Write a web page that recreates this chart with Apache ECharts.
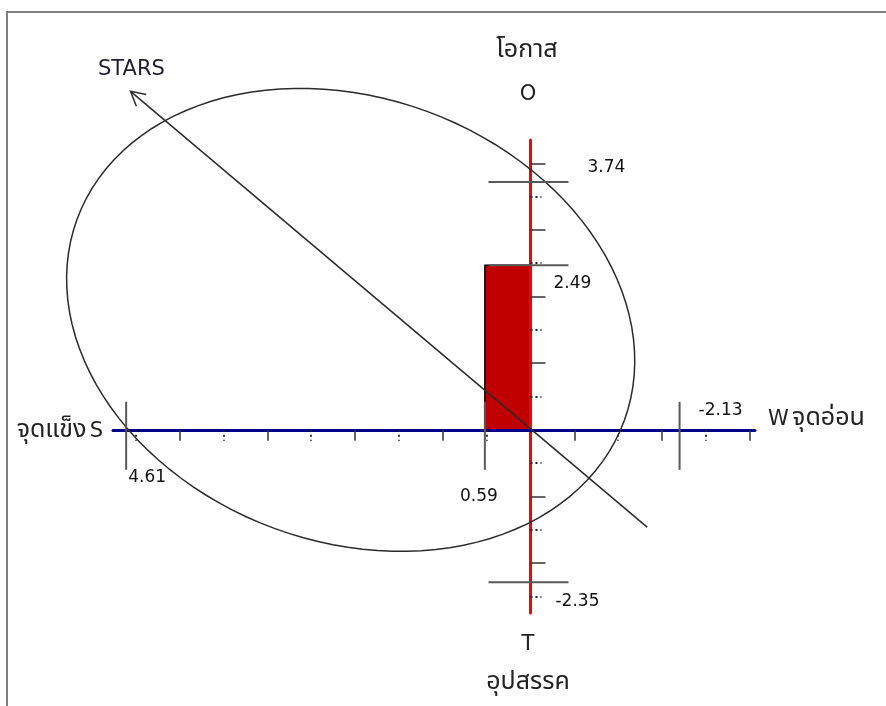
<!DOCTYPE html>
<html>
<head>
<meta charset="utf-8">
<title>STARS</title>
<script src="https://cdn.jsdelivr.net/npm/echarts@6/dist/echarts.min.js"></script>
<style>
html, body { margin: 0; padding: 0; background: #fff; }
#chart { width: 886px; height: 706px; }
</style>
</head>
<body>
<div id="chart"></div>
<script>
// ค่าที่อ่านได้จากภาพ (แกนนอน: S บวกไปทางซ้าย, W ลบไปทางขวา)
const xMarkerLabels = ['4.61', '0.59', '-2.13']
const xMarkerAt = [4.61, 0.52, -1.70]
const yMarkerLabels = ['3.74', '2.49', '-2.35']
const yMarkerAt = [3.72, 2.47, -2.29]
// ขีดแบ่งบนแกน
const xMajorTicks = [4, 3, 2, 1, -0.5, -1.5, -2.5]
const xMinorTicks = [4.5, 3.5, 2.5, 1.5, 0.5, -1, -2]
const yMajorTicks = [4, 3, 2, 1, -1, -2]
const yMinorTicks = [3.5, 2.5, 1.5, 0.5, -0.5, -1.5, -2.5]
// แท่งสี่เหลี่ยม (มุมตรงข้ามจุดกำเนิด)
const barCorner = [xMarkerAt[1], yMarkerAt[1]]
// ลูกศร STARS: จุดเริ่ม -> หัวลูกศร
const starsArrow = [[-1.33, -1.46], [4.56, 5.08]]
// วงรี: จุดศูนย์กลาง และครึ่งเส้นผ่านศูนย์กลางคู่สังยุค
const ellipseCenter = [2.05, 1.65]
const ellipseU = [-3.12, -1.51]
const ellipseV = [0.87, -3.13]

// ตำแหน่งป้ายตัวเลข (ออฟเซ็ตเป็นพิกเซลจากเส้นกำกับ)
const xLabelOffset = [[2, 48, 'left'], [-6, 67, 'center'], [19, -19, 'left']]
const yLabelOffset = [[57, -14, 'left'], [23, 18, 'left'], [25, 19, 'left']]

const numFont = "'DejaVu Sans', sans-serif"
const thaiFont = "Tahoma, 'Noto Sans Thai', 'DejaVu Sans', 'Noto Sans', sans-serif"

// ข้อความภาษาไทยใหญ่กว่าอักษรละติน
const richText = {
  th: { fontSize: 25, fontFamily: thaiFont, fill: '#222', color: '#222' },
  en: { fontSize: 21, fontFamily: numFont, fill: '#222', color: '#222' }
}

const chart = echarts.init(document.getElementById('chart'))

const xRange = { min: -2.56, max: 4.76 }
const yRange = { min: -2.75, max: 4.35 }

const option = {
  animation: false,
  grid: { left: 113, top: 140, width: 642, height: 473 },
  xAxis: [
    {
      type: 'value', ...xRange, inverse: true, position: 'bottom', z: 2,
      axisLine: { show: true, onZero: true, onZeroAxisIndex: 0, lineStyle: { color: '#00008b', width: 3 } },
      axisTick: { show: true, customValues: xMajorTicks, length: 11, lineStyle: { color: '#333', width: 1.5 } },
      axisLabel: { show: false },
      splitLine: { show: false }
    },
    {
      type: 'value', ...xRange, inverse: true, position: 'top', z: 2,
      axisLine: { show: false, onZero: true, onZeroAxisIndex: 0 },
      axisTick: { show: true, inside: true, customValues: xMinorTicks, length: 11, lineStyle: { color: '#222', width: 1.8, type: [2, 3] } },
      axisLabel: { show: false },
      splitLine: { show: false }
    }
  ],
  yAxis: [
    {
      type: 'value', ...yRange, position: 'left', z: 2,
      axisLine: { show: true, onZero: true, onZeroAxisIndex: 0, lineStyle: { color: '#ff0000', width: 3 } },
      axisTick: { show: true, inside: true, customValues: yMajorTicks, length: 15, lineStyle: { color: '#333', width: 1.5 } },
      axisLabel: { show: false },
      splitLine: { show: false }
    },
    {
      type: 'value', ...yRange, position: 'right', z: 2,
      axisLine: { show: false, onZero: true, onZeroAxisIndex: 0 },
      axisTick: { show: true, inside: false, customValues: yMinorTicks, length: 11, lineStyle: { color: '#222', width: 1.8, type: [2, 3] } },
      axisLabel: { show: false },
      splitLine: { show: false }
    }
  ],
  series: [
    // แท่งสีแดง
    {
      type: 'custom', z: 1, data: [barCorner],
      renderItem (params, api) {
        const p0 = api.coord([0, 0])
        const p1 = api.coord([api.value(0), api.value(1)])
        return {
          type: 'rect',
          shape: { x: Math.min(p0[0], p1[0]), y: Math.min(p0[1], p1[1]), width: Math.abs(p1[0] - p0[0]), height: Math.abs(p1[1] - p0[1]) },
          style: { fill: '#c00000', stroke: '#000', lineWidth: 1.5 }
        }
      }
    },
    // วงรี
    {
      type: 'custom', z: 3, clip: false, data: [[ellipseCenter[0], ellipseCenter[1]]],
      renderItem (params, api) {
        const points = []
        for (let i = 0; i <= 120; i++) {
          const t = i / 120 * Math.PI * 2
          const c = Math.cos(t)
          const s = Math.sin(t)
          points.push(api.coord([
            api.value(0) + ellipseU[0] * c + ellipseV[0] * s,
            api.value(1) + ellipseU[1] * c + ellipseV[1] * s
          ]))
        }
        return { type: 'polyline', shape: { points }, style: { fill: null, stroke: '#2b2b2b', lineWidth: 1.5 } }
      }
    },
    // ลูกศร STARS
    {
      type: 'custom', z: 3, clip: false, data: [[starsArrow[0][0], starsArrow[0][1], starsArrow[1][0], starsArrow[1][1]]],
      renderItem (params, api) {
        const a = api.coord([api.value(0), api.value(1)])
        const b = api.coord([api.value(2), api.value(3)])
        const ang = Math.atan2(b[1] - a[1], b[0] - a[0])
        const len = 16
        const w1 = [b[0] - len * Math.cos(ang - 0.5), b[1] - len * Math.sin(ang - 0.5)]
        const w2 = [b[0] - len * Math.cos(ang + 0.5), b[1] - len * Math.sin(ang + 0.5)]
        const style = { stroke: '#2b2b2b', lineWidth: 1.5, fill: null }
        return {
          type: 'group',
          children: [
            { type: 'line', shape: { x1: a[0], y1: a[1], x2: b[0], y2: b[1] }, style },
            { type: 'polyline', shape: { points: [w1, b, w2] }, style }
          ]
        }
      }
    },
    // เส้นกำกับค่าบนแกนนอน
    {
      type: 'custom', z: 3, clip: false, data: xMarkerAt.map((v, i) => [v, 0, i]),
      renderItem (params, api) {
        const p = api.coord([api.value(0), 0])
        const i = api.value(2)
        const off = xLabelOffset[i]
        return {
          type: 'group',
          children: [
            { type: 'line', shape: { x1: p[0], y1: p[1] - 28, x2: p[0], y2: p[1] + 40 }, style: { stroke: '#595959', lineWidth: 2 } },
            { type: 'text', x: p[0] + off[0], y: p[1] + off[1], style: { text: xMarkerLabels[i], fill: '#111', font: '17px ' + numFont, textAlign: off[2], textVerticalAlign: 'middle' } }
          ]
        }
      }
    },
    // เส้นกำกับค่าบนแกนตั้ง
    {
      type: 'custom', z: 3, clip: false, data: yMarkerAt.map((v, i) => [0, v, i]),
      renderItem (params, api) {
        const p = api.coord([0, api.value(1)])
        const i = api.value(2)
        const off = yLabelOffset[i]
        return {
          type: 'group',
          children: [
            { type: 'line', shape: { x1: p[0] - 42, y1: p[1], x2: p[0] + 38, y2: p[1] }, style: { stroke: '#595959', lineWidth: 2 } },
            { type: 'text', x: p[0] + off[0], y: p[1] + off[1], style: { text: yMarkerLabels[i], fill: '#111', font: '17px ' + numFont, textAlign: off[2], textVerticalAlign: 'middle' } }
          ]
        }
      }
    }
  ],
  graphic: [
    { type: 'rect', z: 0, shape: { x: 7, y: 12, width: 900, height: 720 }, style: { fill: null, stroke: '#808080', lineWidth: 2 } },
    { type: 'text', x: 103, y: 432, style: { text: '{th|จุดแข็ง} {en|S}', rich: richText, textAlign: 'right', textVerticalAlign: 'middle' } },
    { type: 'text', x: 768, y: 420, style: { text: '{en|W} {th|จุดอ่อน}', rich: richText, textAlign: 'left', textVerticalAlign: 'middle' } },
    { type: 'text', x: 527, y: 52, style: { text: '{th|โอกาส}', rich: richText, textAlign: 'center', textVerticalAlign: 'middle' } },
    { type: 'text', x: 528, y: 95, style: { text: '{en|O}', rich: richText, textAlign: 'center', textVerticalAlign: 'middle' } },
    { type: 'text', x: 528, y: 645, style: { text: '{en|T}', rich: richText, textAlign: 'center', textVerticalAlign: 'middle' } },
    { type: 'text', x: 528, y: 684, style: { text: '{th|อุปสรรค}', rich: richText, textAlign: 'center', textVerticalAlign: 'middle' } },
    { type: 'text', x: 98, y: 70, style: { text: 'STARS', fill: '#1e1e2e', font: '21px ' + numFont, textAlign: 'left', textVerticalAlign: 'middle' } }
  ]
}

chart.setOption(option)
</script>
</body>
</html>
